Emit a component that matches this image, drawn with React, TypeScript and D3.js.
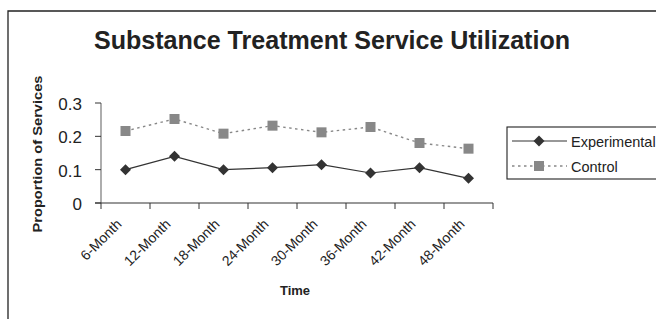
import React from "react";
import * as d3 from "d3";

const categories = ["6-Month", "12-Month", "18-Month", "24-Month", "30-Month", "36-Month", "42-Month", "48-Month"];
const experimental = [0.1, 0.14, 0.1, 0.106, 0.115, 0.09, 0.106, 0.074];
const control = [0.216, 0.252, 0.208, 0.232, 0.212, 0.228, 0.18, 0.163];
const yTicks = [0, 0.1, 0.2, 0.3];
const yTickLabels = ["0", "0.1", "0.2", "0.3"];

const W = 656;
const H = 319;

const App = () => {
  const x = d3.scaleBand<string>().domain(categories).range([101, 493]);
  const y = d3.scaleLinear().domain([0, 0.3]).range([203, 103]);
  const cx = (c: string) => (x(c) ?? 0) + x.bandwidth() / 2;

  const line = d3
    .line<number>()
    .x((_, i) => cx(categories[i]))
    .y((d) => y(d));

  const font = "Liberation Sans, Arial, sans-serif";
  // square diamond like Excel's marker
  const diamond = "M0,-5.5L5.5,0L0,5.5L-5.5,0Z";

  return (
    <svg width={W} height={H} style={{ position: "absolute", left: 0, top: 0 }} fontFamily={font}>
      <rect x={0} y={0} width={W} height={H} fill="#fff" />
      {/* outer chart frame, clipped on right and bottom */}
      <path d={`M8,${H + 2} V11 H${W + 2}`} fill="none" stroke="#222" strokeWidth={1.3} />

      <text
        x={332}
        y={49}
        textAnchor="middle"
        fontSize={25}
        fontWeight="bold"
        fill="#222"
        textLength={476}
        lengthAdjust="spacingAndGlyphs"
      >
        Substance Treatment Service Utilization
      </text>

      {/* y axis */}
      <line x1={101} x2={101} y1={103} y2={203} stroke="#777" strokeWidth={1.2} />
      {yTicks.map((t, i) => (
        <g key={t}>
          <line x1={95} x2={101} y1={y(t)} y2={y(t)} stroke="#333" strokeWidth={1} />
          <text x={82} y={y(t) + 7} textAnchor="end" fontSize={17} fill="#222">
            {yTickLabels[i]}
          </text>
        </g>
      ))}
      <text
        transform={`translate(42,154) rotate(-90)`}
        textAnchor="middle"
        fontSize={13.5}
        fontWeight="bold"
        fill="#222"
        textLength={157}
        lengthAdjust="spacingAndGlyphs"
      >
        Proportion of Services
      </text>

      {/* x axis */}
      <line x1={95} x2={493} y1={203} y2={203} stroke="#333" strokeWidth={1.2} />
      {[...categories.map((c) => x(c) ?? 0), 493].map((t, i) => (
        <line key={i} x1={t} x2={t} y1={203} y2={209} stroke="#333" strokeWidth={1} />
      ))}
      {categories.map((c) => (
        <text
          key={c}
          transform={`translate(${cx(c) - 3},${225}) rotate(-45)`}
          textAnchor="end"
          fontSize={14}
          fill="#222"
        >
          {c}
        </text>
      ))}
      <text x={295} y={295} textAnchor="middle" fontSize={13} fontWeight="bold" fill="#222">
        Time
      </text>

      {/* series */}
      <path d={line(control) ?? ""} fill="none" stroke="#888" strokeWidth={1.4} strokeDasharray="2.5,3.5" />
      {control.map((v, i) => (
        <rect key={i} x={cx(categories[i]) - 5} y={y(v) - 5} width={10} height={10} fill="#888" />
      ))}
      <path d={line(experimental) ?? ""} fill="none" stroke="#333" strokeWidth={1.2} />
      {experimental.map((v, i) => (
        <path key={i} d={diamond} transform={`translate(${cx(categories[i])},${y(v)})`} fill="#333" />
      ))}

      {/* legend */}
      <rect x={507} y={127} width={160} height={52} fill="#fff" stroke="#222" strokeWidth={1.1} />
      <line x1={512} x2={567} y1={141} y2={141} stroke="#333" strokeWidth={1.2} />
      <path d={diamond} transform="translate(539,141)" fill="#333" />
      <text x={571} y={146.5} fontSize={14.5} fill="#222">
        Experimental
      </text>
      <line x1={512} x2={567} y1={166} y2={166} stroke="#888" strokeWidth={1.4} strokeDasharray="2.5,3.5" />
      <rect x={534} y={161} width={10} height={10} fill="#888" />
      <text x={571} y={171.5} fontSize={14.5} fill="#222">
        Control
      </text>
    </svg>
  );
};

export default App;
